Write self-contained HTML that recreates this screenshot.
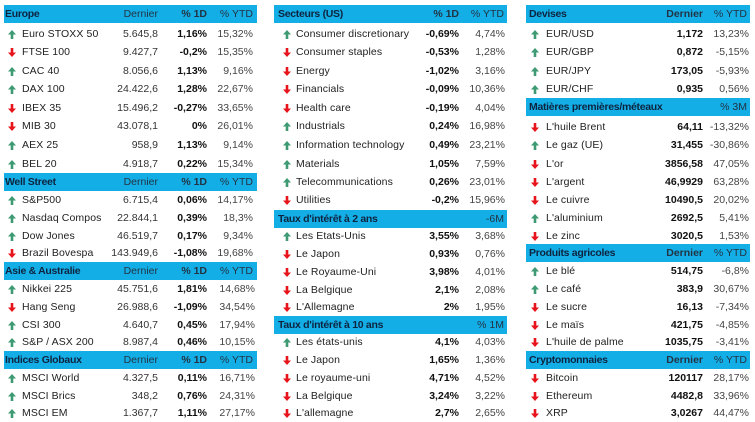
<!DOCTYPE html>
<html><head><meta charset="utf-8"><style>
*{margin:0;padding:0;box-sizing:border-box}
body{width:755px;height:420px;background:#fff;position:relative;overflow:hidden;font-family:"Liberation Sans",sans-serif;font-size:10.5px;color:#333}
.h{position:absolute;height:18px;background:#14aee6;line-height:18px;color:#0d2440}
.h b{position:absolute;left:1px;font-weight:bold;letter-spacing:-0.3px}
.h span{position:absolute;color:#234;}
.r{position:absolute;height:18px;line-height:18px}
.r span{position:absolute;white-space:nowrap}
.r .n{color:#222;letter-spacing:0.1px}
.r .v{text-align:right;color:#333}
.r .p{text-align:right;font-weight:bold;color:#111}
.r .y{text-align:right;color:#444}
svg.a{position:absolute;top:5px;width:8px;height:9px}
.R{right:0}
</style></head><body>
<svg width="0" height="0" style="position:absolute"><defs>
<path id="up" d="M4 0L8 4.5H5.3V9H2.7V4.5H0Z" fill="#3d9a72"/>
<path id="dn" d="M4 9L8 4.5H5.3V0H2.7V4.5H0Z" fill="#e8141c"/>
</defs></svg>

<!-- LEFT PANEL -->
<div class="h" style="left:4px;top:5px;width:253px"><b>Europe</b><span style="right:99px">Dernier</span><span style="right:50px;font-weight:bold">% 1D</span><span style="right:4px">% YTD</span></div>
<div class="h" style="left:4px;top:173px;width:253px"><b>Well Street</b><span style="right:99px">Dernier</span><span style="right:50px;font-weight:bold">% 1D</span><span style="right:4px">% YTD</span></div>
<div class="h" style="left:4px;top:262px;width:253px"><b>Asie &amp; Australie</b><span style="right:99px">Dernier</span><span style="right:50px;font-weight:bold">% 1D</span><span style="right:4px">% YTD</span></div>
<div class="h" style="left:4px;top:351px;width:253px"><b>Indices Globaux</b><span style="right:99px">Dernier</span><span style="right:50px;font-weight:bold">% 1D</span><span style="right:4px">% YTD</span></div>

<div style="position:absolute;left:0;top:0;width:260px;height:420px">
<div class="r" style="top:25px;width:260px"><svg class="a" style="left:8px" viewBox="0 0 8 9"><use href="#up"/></svg><span class="n" style="left:22px">Euro STOXX 50</span><span class="v" style="right:102px">5.645,8</span><span class="p" style="right:53px">1,16%</span><span class="y" style="right:7px">15,32%</span></div>
<div class="r" style="top:43px;width:260px"><svg class="a" style="left:8px" viewBox="0 0 8 9"><use href="#dn"/></svg><span class="n" style="left:22px">FTSE 100</span><span class="v" style="right:102px">9.427,7</span><span class="p" style="right:53px">-0,2%</span><span class="y" style="right:7px">15,35%</span></div>
<div class="r" style="top:62px;width:260px"><svg class="a" style="left:8px" viewBox="0 0 8 9"><use href="#up"/></svg><span class="n" style="left:22px">CAC 40</span><span class="v" style="right:102px">8.056,6</span><span class="p" style="right:53px">1,13%</span><span class="y" style="right:7px">9,16%</span></div>
<div class="r" style="top:80px;width:260px"><svg class="a" style="left:8px" viewBox="0 0 8 9"><use href="#up"/></svg><span class="n" style="left:22px">DAX 100</span><span class="v" style="right:102px">24.422,6</span><span class="p" style="right:53px">1,28%</span><span class="y" style="right:7px">22,67%</span></div>
<div class="r" style="top:99px;width:260px"><svg class="a" style="left:8px" viewBox="0 0 8 9"><use href="#dn"/></svg><span class="n" style="left:22px">IBEX 35</span><span class="v" style="right:102px">15.496,2</span><span class="p" style="right:53px">-0,27%</span><span class="y" style="right:7px">33,65%</span></div>
<div class="r" style="top:117px;width:260px"><svg class="a" style="left:8px" viewBox="0 0 8 9"><use href="#dn"/></svg><span class="n" style="left:22px">MIB 30</span><span class="v" style="right:102px">43.078,1</span><span class="p" style="right:53px">0%</span><span class="y" style="right:7px">26,01%</span></div>
<div class="r" style="top:136px;width:260px"><svg class="a" style="left:8px" viewBox="0 0 8 9"><use href="#up"/></svg><span class="n" style="left:22px">AEX 25</span><span class="v" style="right:102px">958,9</span><span class="p" style="right:53px">1,13%</span><span class="y" style="right:7px">9,14%</span></div>
<div class="r" style="top:155px;width:260px"><svg class="a" style="left:8px" viewBox="0 0 8 9"><use href="#up"/></svg><span class="n" style="left:22px">BEL 20</span><span class="v" style="right:102px">4.918,7</span><span class="p" style="right:53px">0,22%</span><span class="y" style="right:7px">15,34%</span></div>

<div class="r" style="top:191px;width:260px"><svg class="a" style="left:8px" viewBox="0 0 8 9"><use href="#up"/></svg><span class="n" style="left:22px">S&amp;P500</span><span class="v" style="right:102px">6.715,4</span><span class="p" style="right:53px">0,06%</span><span class="y" style="right:7px">14,17%</span></div>
<div class="r" style="top:209px;width:260px"><svg class="a" style="left:8px" viewBox="0 0 8 9"><use href="#up"/></svg><span class="n" style="left:22px;width:80px;overflow:hidden">Nasdaq Composite</span><span class="v" style="right:102px">22.844,1</span><span class="p" style="right:53px">0,39%</span><span class="y" style="right:7px">18,3%</span></div>
<div class="r" style="top:227px;width:260px"><svg class="a" style="left:8px" viewBox="0 0 8 9"><use href="#up"/></svg><span class="n" style="left:22px">Dow Jones</span><span class="v" style="right:102px">46.519,7</span><span class="p" style="right:53px">0,17%</span><span class="y" style="right:7px">9,34%</span></div>
<div class="r" style="top:244px;width:260px"><svg class="a" style="left:8px" viewBox="0 0 8 9"><use href="#dn"/></svg><span class="n" style="left:22px">Brazil Bovespa</span><span class="v" style="right:102px">143.949,6</span><span class="p" style="right:53px">-1,08%</span><span class="y" style="right:7px">19,68%</span></div>

<div class="r" style="top:280px;width:260px"><svg class="a" style="left:8px" viewBox="0 0 8 9"><use href="#up"/></svg><span class="n" style="left:22px">Nikkei 225</span><span class="v" style="right:102px">45.751,6</span><span class="p" style="right:53px">1,81%</span><span class="y" style="right:5px">14,68%</span></div>
<div class="r" style="top:298px;width:260px"><svg class="a" style="left:8px" viewBox="0 0 8 9"><use href="#dn"/></svg><span class="n" style="left:22px">Hang Seng</span><span class="v" style="right:102px">26.988,6</span><span class="p" style="right:53px">-1,09%</span><span class="y" style="right:5px">34,54%</span></div>
<div class="r" style="top:316px;width:260px"><svg class="a" style="left:8px" viewBox="0 0 8 9"><use href="#up"/></svg><span class="n" style="left:22px">CSI 300</span><span class="v" style="right:102px">4.640,7</span><span class="p" style="right:53px">0,45%</span><span class="y" style="right:5px">17,94%</span></div>
<div class="r" style="top:333px;width:260px"><svg class="a" style="left:8px" viewBox="0 0 8 9"><use href="#up"/></svg><span class="n" style="left:22px">S&amp;P / ASX 200</span><span class="v" style="right:102px">8.987,4</span><span class="p" style="right:53px">0,46%</span><span class="y" style="right:5px">10,15%</span></div>

<div class="r" style="top:369px;width:260px"><svg class="a" style="left:8px" viewBox="0 0 8 9"><use href="#up"/></svg><span class="n" style="left:22px">MSCI World</span><span class="v" style="right:102px">4.327,5</span><span class="p" style="right:53px">0,11%</span><span class="y" style="right:5px">16,71%</span></div>
<div class="r" style="top:387px;width:260px"><svg class="a" style="left:8px" viewBox="0 0 8 9"><use href="#up"/></svg><span class="n" style="left:22px">MSCI Brics</span><span class="v" style="right:102px">348,2</span><span class="p" style="right:53px">0,76%</span><span class="y" style="right:5px">24,31%</span></div>
<div class="r" style="top:404px;width:260px"><svg class="a" style="left:8px" viewBox="0 0 8 9"><use href="#up"/></svg><span class="n" style="left:22px">MSCI EM</span><span class="v" style="right:102px">1.367,7</span><span class="p" style="right:53px">1,11%</span><span class="y" style="right:5px">27,17%</span></div>
</div>

<!-- MIDDLE PANEL -->
<div class="h" style="left:274px;top:5px;width:233px"><b style="left:4px">Secteurs (US)</b><span style="right:48px;font-weight:bold">% 1D</span><span style="right:3px">% YTD</span></div>
<div class="h" style="left:274px;top:210px;width:233px"><b style="left:4px">Taux d'intérêt à 2 ans</b><span style="right:3px">-6M</span></div>
<div class="h" style="left:274px;top:316px;width:233px"><b style="left:4px">Taux d'intérêt à 10 ans</b><span style="right:3px">% 1M</span></div>

<div style="position:absolute;left:274px;top:0;width:233px;height:420px">
<div class="r" style="top:25px;width:233px"><svg class="a" style="left:9px" viewBox="0 0 8 9"><use href="#up"/></svg><span class="n" style="left:22px">Consumer discretionary</span><span class="p" style="right:48px">-0,69%</span><span class="y" style="right:2px">4,74%</span></div>
<div class="r" style="top:43px;width:233px"><svg class="a" style="left:9px" viewBox="0 0 8 9"><use href="#dn"/></svg><span class="n" style="left:22px">Consumer staples</span><span class="p" style="right:48px">-0,53%</span><span class="y" style="right:2px">1,28%</span></div>
<div class="r" style="top:62px;width:233px"><svg class="a" style="left:9px" viewBox="0 0 8 9"><use href="#dn"/></svg><span class="n" style="left:22px">Energy</span><span class="p" style="right:48px">-1,02%</span><span class="y" style="right:2px">3,16%</span></div>
<div class="r" style="top:80px;width:233px"><svg class="a" style="left:9px" viewBox="0 0 8 9"><use href="#dn"/></svg><span class="n" style="left:22px">Financials</span><span class="p" style="right:48px">-0,09%</span><span class="y" style="right:2px">10,36%</span></div>
<div class="r" style="top:99px;width:233px"><svg class="a" style="left:9px" viewBox="0 0 8 9"><use href="#dn"/></svg><span class="n" style="left:22px">Health care</span><span class="p" style="right:48px">-0,19%</span><span class="y" style="right:2px">4,04%</span></div>
<div class="r" style="top:117px;width:233px"><svg class="a" style="left:9px" viewBox="0 0 8 9"><use href="#up"/></svg><span class="n" style="left:22px">Industrials</span><span class="p" style="right:48px">0,24%</span><span class="y" style="right:2px">16,98%</span></div>
<div class="r" style="top:136px;width:233px"><svg class="a" style="left:9px" viewBox="0 0 8 9"><use href="#up"/></svg><span class="n" style="left:22px">Information technology</span><span class="p" style="right:48px">0,49%</span><span class="y" style="right:2px">23,21%</span></div>
<div class="r" style="top:155px;width:233px"><svg class="a" style="left:9px" viewBox="0 0 8 9"><use href="#up"/></svg><span class="n" style="left:22px">Materials</span><span class="p" style="right:48px">1,05%</span><span class="y" style="right:2px">7,59%</span></div>
<div class="r" style="top:173px;width:233px"><svg class="a" style="left:9px" viewBox="0 0 8 9"><use href="#up"/></svg><span class="n" style="left:22px">Telecommunications</span><span class="p" style="right:48px">0,26%</span><span class="y" style="right:2px">23,01%</span></div>
<div class="r" style="top:191px;width:233px"><svg class="a" style="left:9px" viewBox="0 0 8 9"><use href="#dn"/></svg><span class="n" style="left:22px">Utilities</span><span class="p" style="right:48px">-0,2%</span><span class="y" style="right:2px">15,96%</span></div>

<div class="r" style="top:227px;width:233px"><svg class="a" style="left:9px" viewBox="0 0 8 9"><use href="#up"/></svg><span class="n" style="left:22px">Les Etats-Unis</span><span class="p" style="right:48px">3,55%</span><span class="y" style="right:2px">3,68%</span></div>
<div class="r" style="top:245px;width:233px"><svg class="a" style="left:9px" viewBox="0 0 8 9"><use href="#dn"/></svg><span class="n" style="left:22px">Le Japon</span><span class="p" style="right:48px">0,93%</span><span class="y" style="right:2px">0,76%</span></div>
<div class="r" style="top:263px;width:233px"><svg class="a" style="left:9px" viewBox="0 0 8 9"><use href="#dn"/></svg><span class="n" style="left:22px">Le Royaume-Uni</span><span class="p" style="right:48px">3,98%</span><span class="y" style="right:2px">4,01%</span></div>
<div class="r" style="top:281px;width:233px"><svg class="a" style="left:9px" viewBox="0 0 8 9"><use href="#dn"/></svg><span class="n" style="left:22px">La Belgique</span><span class="p" style="right:48px">2,1%</span><span class="y" style="right:2px">2,08%</span></div>
<div class="r" style="top:298px;width:233px"><svg class="a" style="left:9px" viewBox="0 0 8 9"><use href="#dn"/></svg><span class="n" style="left:22px">L'Allemagne</span><span class="p" style="right:48px">2%</span><span class="y" style="right:2px">1,95%</span></div>

<div class="r" style="top:333px;width:233px"><svg class="a" style="left:9px" viewBox="0 0 8 9"><use href="#up"/></svg><span class="n" style="left:22px">Les états-unis</span><span class="p" style="right:48px">4,1%</span><span class="y" style="right:2px">4,03%</span></div>
<div class="r" style="top:351px;width:233px"><svg class="a" style="left:9px" viewBox="0 0 8 9"><use href="#dn"/></svg><span class="n" style="left:22px">Le Japon</span><span class="p" style="right:48px">1,65%</span><span class="y" style="right:2px">1,36%</span></div>
<div class="r" style="top:369px;width:233px"><svg class="a" style="left:9px" viewBox="0 0 8 9"><use href="#dn"/></svg><span class="n" style="left:22px">Le royaume-uni</span><span class="p" style="right:48px">4,71%</span><span class="y" style="right:2px">4,52%</span></div>
<div class="r" style="top:387px;width:233px"><svg class="a" style="left:9px" viewBox="0 0 8 9"><use href="#dn"/></svg><span class="n" style="left:22px">La Belgique</span><span class="p" style="right:48px">3,24%</span><span class="y" style="right:2px">3,22%</span></div>
<div class="r" style="top:404px;width:233px"><svg class="a" style="left:9px" viewBox="0 0 8 9"><use href="#dn"/></svg><span class="n" style="left:22px">L'allemagne</span><span class="p" style="right:48px">2,7%</span><span class="y" style="right:2px">2,65%</span></div>
</div>

<!-- RIGHT PANEL -->
<div class="h" style="left:526px;top:5px;width:224px"><b style="left:3px">Devises</b><span style="right:47px;font-weight:bold">Dernier</span><span style="right:3px">% YTD</span></div>
<div class="h" style="left:526px;top:98px;width:224px"><b style="left:3px">Matières premières/méteaux</b><span style="right:3px">% 3M</span></div>
<div class="h" style="left:526px;top:244px;width:224px"><b style="left:3px">Produits agricoles</b><span style="right:47px;font-weight:bold">Dernier</span><span style="right:3px">% YTD</span></div>
<div class="h" style="left:526px;top:351px;width:224px"><b style="left:3px">Cryptomonnaies</b><span style="right:47px;font-weight:bold">Dernier</span><span style="right:3px">% YTD</span></div>

<div style="position:absolute;left:526px;top:0;width:224px;height:420px">
<div class="r" style="top:25px;width:224px"><svg class="a" style="left:5px" viewBox="0 0 8 9"><use href="#up"/></svg><span class="n" style="left:20px">EUR/USD</span><span class="p" style="right:47px">1,172</span><span class="y" style="right:1px">13,23%</span></div>
<div class="r" style="top:43px;width:224px"><svg class="a" style="left:5px" viewBox="0 0 8 9"><use href="#up"/></svg><span class="n" style="left:20px">EUR/GBP</span><span class="p" style="right:47px">0,872</span><span class="y" style="right:1px">-5,15%</span></div>
<div class="r" style="top:62px;width:224px"><svg class="a" style="left:5px" viewBox="0 0 8 9"><use href="#up"/></svg><span class="n" style="left:20px">EUR/JPY</span><span class="p" style="right:47px">173,05</span><span class="y" style="right:1px">-5,93%</span></div>
<div class="r" style="top:80px;width:224px"><svg class="a" style="left:5px" viewBox="0 0 8 9"><use href="#up"/></svg><span class="n" style="left:20px">EUR/CHF</span><span class="p" style="right:47px">0,935</span><span class="y" style="right:1px">0,56%</span></div>

<div class="r" style="top:118px;width:224px"><svg class="a" style="left:5px" viewBox="0 0 8 9"><use href="#dn"/></svg><span class="n" style="left:20px">L'huile Brent</span><span class="p" style="right:47px">64,11</span><span class="y" style="right:1px">-13,32%</span></div>
<div class="r" style="top:136px;width:224px"><svg class="a" style="left:5px" viewBox="0 0 8 9"><use href="#up"/></svg><span class="n" style="left:20px">Le gaz (UE)</span><span class="p" style="right:47px">31,455</span><span class="y" style="right:1px">-30,86%</span></div>
<div class="r" style="top:155px;width:224px"><svg class="a" style="left:5px" viewBox="0 0 8 9"><use href="#dn"/></svg><span class="n" style="left:20px">L'or</span><span class="p" style="right:47px">3856,58</span><span class="y" style="right:1px">47,05%</span></div>
<div class="r" style="top:173px;width:224px"><svg class="a" style="left:5px" viewBox="0 0 8 9"><use href="#dn"/></svg><span class="n" style="left:20px">L'argent</span><span class="p" style="right:47px">46,9929</span><span class="y" style="right:1px">63,28%</span></div>
<div class="r" style="top:191px;width:224px"><svg class="a" style="left:5px" viewBox="0 0 8 9"><use href="#dn"/></svg><span class="n" style="left:20px">Le cuivre</span><span class="p" style="right:47px">10490,5</span><span class="y" style="right:1px">20,02%</span></div>
<div class="r" style="top:209px;width:224px"><svg class="a" style="left:5px" viewBox="0 0 8 9"><use href="#up"/></svg><span class="n" style="left:20px">L'aluminium</span><span class="p" style="right:47px">2692,5</span><span class="y" style="right:1px">5,41%</span></div>
<div class="r" style="top:227px;width:224px"><svg class="a" style="left:5px" viewBox="0 0 8 9"><use href="#dn"/></svg><span class="n" style="left:20px">Le zinc</span><span class="p" style="right:47px">3020,5</span><span class="y" style="right:1px">1,53%</span></div>

<div class="r" style="top:262px;width:224px"><svg class="a" style="left:5px" viewBox="0 0 8 9"><use href="#up"/></svg><span class="n" style="left:20px">Le blé</span><span class="p" style="right:47px">514,75</span><span class="y" style="right:1px">-6,8%</span></div>
<div class="r" style="top:280px;width:224px"><svg class="a" style="left:5px" viewBox="0 0 8 9"><use href="#up"/></svg><span class="n" style="left:20px">Le café</span><span class="p" style="right:47px">383,9</span><span class="y" style="right:1px">30,67%</span></div>
<div class="r" style="top:298px;width:224px"><svg class="a" style="left:5px" viewBox="0 0 8 9"><use href="#dn"/></svg><span class="n" style="left:20px">Le sucre</span><span class="p" style="right:47px">16,13</span><span class="y" style="right:1px">-7,34%</span></div>
<div class="r" style="top:316px;width:224px"><svg class="a" style="left:5px" viewBox="0 0 8 9"><use href="#dn"/></svg><span class="n" style="left:20px">Le maïs</span><span class="p" style="right:47px">421,75</span><span class="y" style="right:1px">-4,85%</span></div>
<div class="r" style="top:333px;width:224px"><svg class="a" style="left:5px" viewBox="0 0 8 9"><use href="#dn"/></svg><span class="n" style="left:20px">L'huile de palme</span><span class="p" style="right:47px">1035,75</span><span class="y" style="right:1px">-3,41%</span></div>

<div class="r" style="top:369px;width:224px"><svg class="a" style="left:5px" viewBox="0 0 8 9"><use href="#dn"/></svg><span class="n" style="left:20px">Bitcoin</span><span class="p" style="right:47px">120117</span><span class="y" style="right:1px">28,17%</span></div>
<div class="r" style="top:387px;width:224px"><svg class="a" style="left:5px" viewBox="0 0 8 9"><use href="#dn"/></svg><span class="n" style="left:20px">Ethereum</span><span class="p" style="right:47px">4482,8</span><span class="y" style="right:1px">33,96%</span></div>
<div class="r" style="top:404px;width:224px"><svg class="a" style="left:5px" viewBox="0 0 8 9"><use href="#dn"/></svg><span class="n" style="left:20px">XRP</span><span class="p" style="right:47px">3,0267</span><span class="y" style="right:1px">44,47%</span></div>
</div>
</body></html>
